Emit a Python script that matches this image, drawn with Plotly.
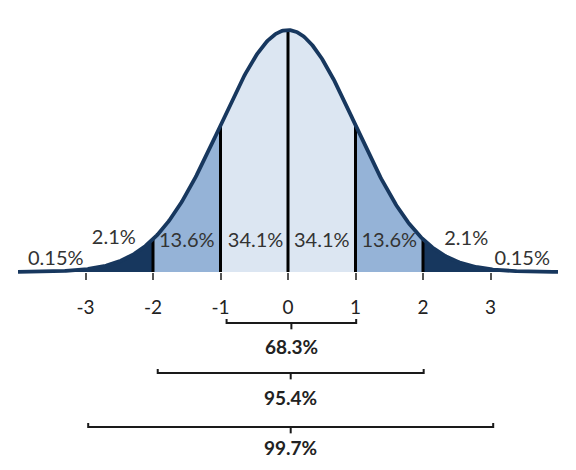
import numpy as np
import plotly.graph_objects as go

# ---- data ----
mu, sigma = 0.0, 1.0
sigma_ticks = [-3, -2, -1, 0, 1, 2, 3]
tick_labels = ["-3", "-2", "-1", "0", "1", "2", "3"]
divider_x = [-2, -1, 0, 1, 2]
region_edges = [-4, -2, -1, 1, 2, 4]
region_names = ["tail", "band2", "band1", "band2", "tail"]
label_text = ["0.15%", "2.1%", "13.6%", "34.1%", "34.1%", "13.6%", "2.1%", "0.15%"]
label_x = [-3.44, -2.58, -1.5, -0.48, 0.5, 1.5, 2.64, 3.47]
label_y = [0.020, 0.054, 0.049, 0.049, 0.049, 0.049, 0.053, 0.020]
bracket_text = ["68.3%", "95.4%", "99.7%"]
bracket_left = [-0.91, -1.93, -2.96]
bracket_right = [1.01, 2.01, 3.04]
bracket_y = [-0.084, -0.1665, -0.2555]
bracket_label_y = [-0.1236, -0.2061, -0.2885]

colors = {"tail": "#17375E", "band2": "#95B3D7", "band1": "#DCE6F2"}
line_col = "#17375E"

Y_MIN, Y_MAX = -0.3396, 0.4352


def pdf(x):
    return np.exp(-0.5 * ((x - mu) / sigma) ** 2) / (sigma * np.sqrt(2 * np.pi))


fig = go.Figure()

# shaded regions
for a, b, name in zip(region_edges[:-1], region_edges[1:], region_names):
    xs = np.linspace(a, b, 120)
    fig.add_trace(go.Scatter(x=xs, y=pdf(xs), mode="lines", line=dict(width=0),
                             fill="tozeroy", fillcolor=colors[name],
                             hoverinfo="skip", showlegend=False))

# divider lines
for d in divider_x:
    fig.add_trace(go.Scatter(x=[d, d], y=[0, float(pdf(d))], mode="lines",
                             line=dict(color="black", width=3),
                             hoverinfo="skip", showlegend=False))

# curve outline
xc = np.linspace(region_edges[0], region_edges[-1], 600)
fig.add_trace(go.Scatter(x=xc, y=pdf(xc), mode="lines",
                         line=dict(color=line_col, width=3.8),
                         hoverinfo="skip", showlegend=False))

# percentage labels
fig.add_trace(go.Scatter(x=label_x, y=label_y, mode="text", text=label_text,
                         textfont=dict(family="Lato", size=20, color="#333333"),
                         hoverinfo="skip", showlegend=False))

# brackets
hook = 0.0066
tick = 0.0105
for txt, l, r, by, ly in zip(bracket_text, bracket_left, bracket_right, bracket_y, bracket_label_y):
    c = (l + r) / 2
    fig.add_shape(type="path", xref="x", yref="y",
                  path=f"M {l},{by + hook} L {l},{by} L {r},{by} L {r},{by + hook}",
                  line=dict(color="#1a1a1a", width=2))
    fig.add_shape(type="line", xref="x", yref="y", x0=c, x1=c, y0=by, y1=by - tick,
                  line=dict(color="#1a1a1a", width=2))
    fig.add_annotation(x=c, y=ly, xref="x", yref="y", text=f"<b>{txt}</b>",
                       showarrow=False,
                       font=dict(family="Lato", size=19, color="#222222"))

fig.update_layout(
    width=576, height=470,
    margin=dict(l=10, r=26, t=0, b=0),
    paper_bgcolor="white", plot_bgcolor="white",
    xaxis=dict(range=[-4, 4], tickvals=sigma_ticks, ticktext=tick_labels,
               showgrid=False, zeroline=False, showline=False,
               ticks="outside", ticklen=7, tickwidth=1.5, tickcolor="#555555",
               tickfont=dict(family="Lato", size=19, color="#222222"),
               anchor="free", position=(0 - Y_MIN) / (Y_MAX - Y_MIN),
               ticklabelstandoff=11),
    yaxis=dict(range=[Y_MIN, Y_MAX], visible=False, showgrid=False, zeroline=False),
)

fig.write_html("out.html")
